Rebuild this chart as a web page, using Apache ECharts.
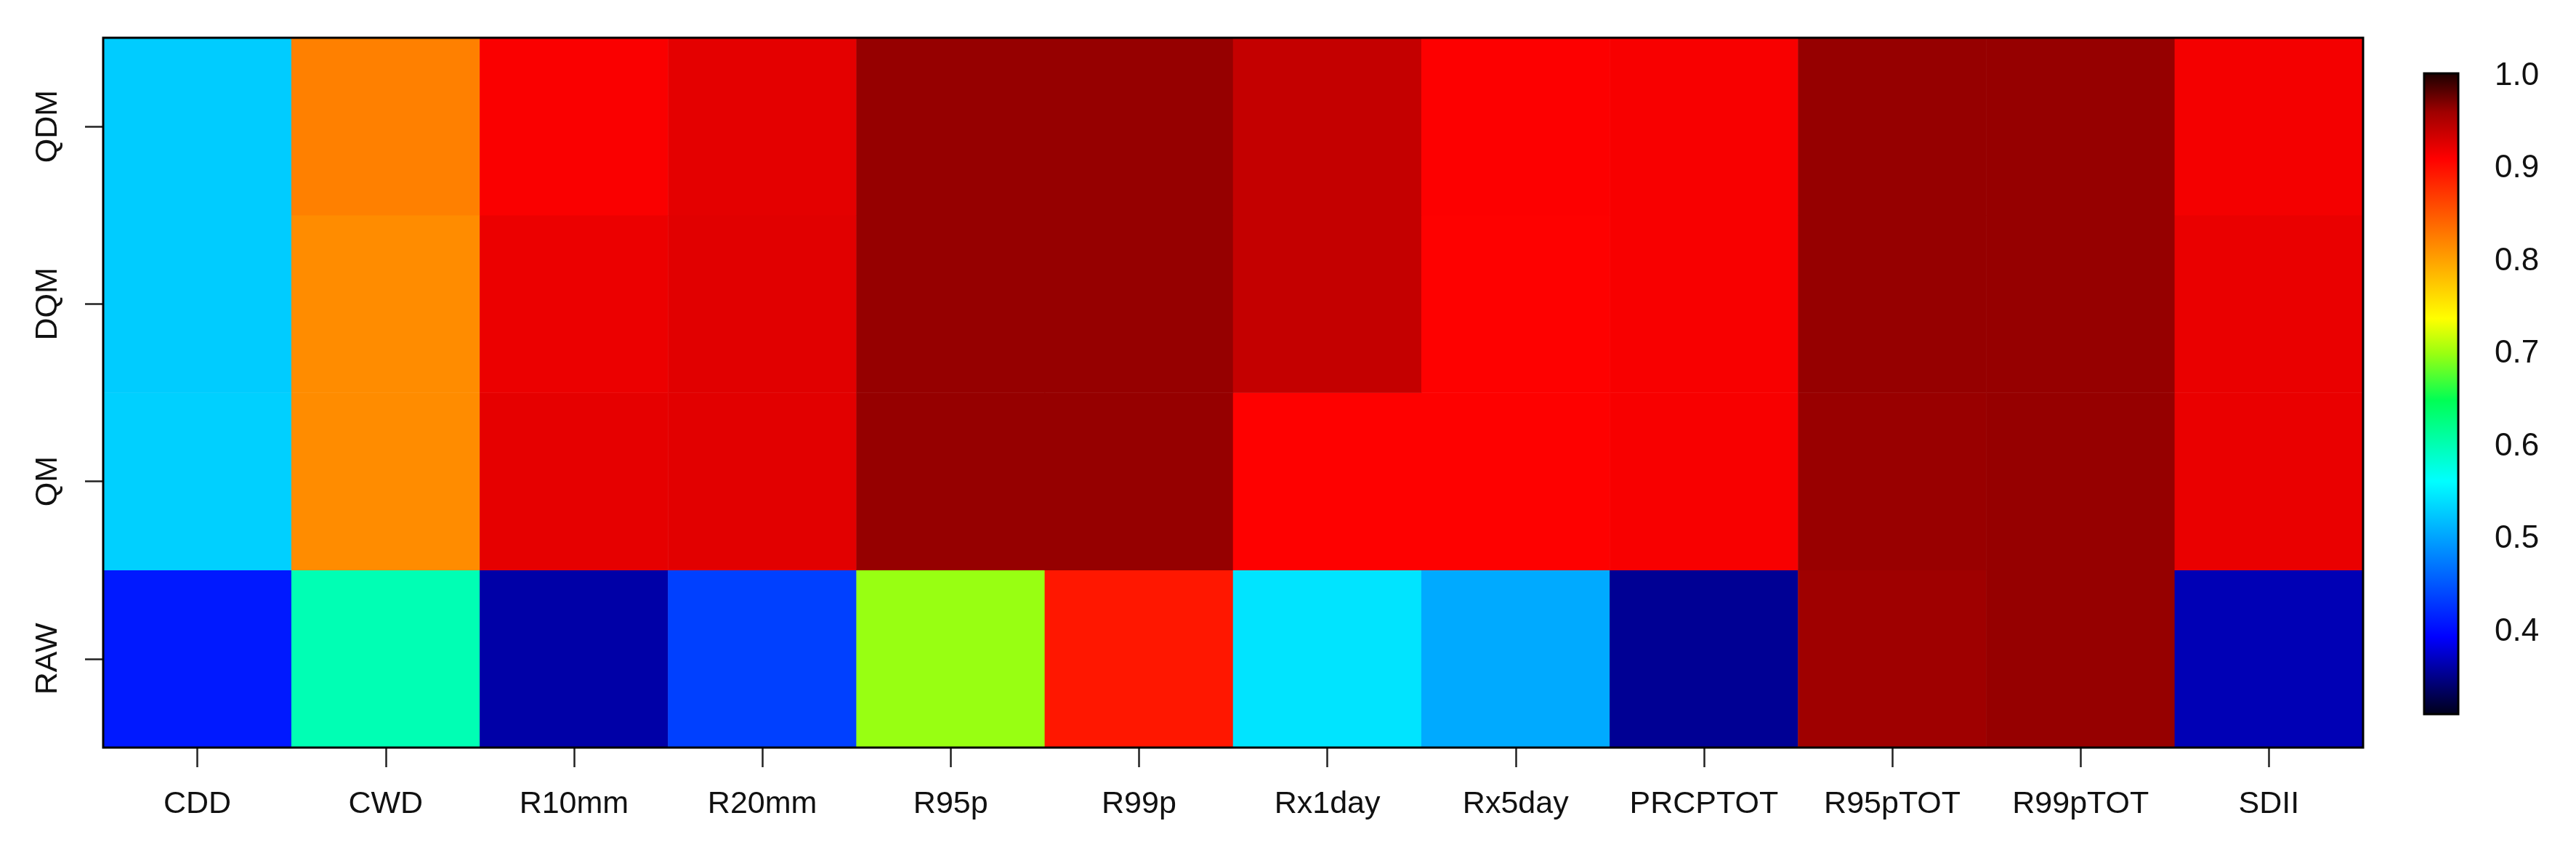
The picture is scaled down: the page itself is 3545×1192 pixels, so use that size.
<html>
<head>
    <meta charset="utf-8">
    <title>heatmap</title>
    <script src="https://cdn.jsdelivr.net/npm/echarts@6/dist/echarts.min.js"></script>
</head>
<body style="margin:0;background:#fff;">
<div id="chartmain" style="width: 3545px; height: 1192px;"></div>
<script type="text/javascript">
    // categories
    var indices = ['CDD', 'CWD', 'R10mm', 'R20mm', 'R95p', 'R99p', 'Rx1day', 'Rx5day', 'PRCPTOT', 'R95pTOT', 'R99pTOT', 'SDII'];
    var methods = ['RAW', 'QM', 'DQM', 'QDM'];   // bottom -> top

    // values, one array per row
    var qdm = [0.529, 0.824, 0.913, 0.924, 0.963, 0.963, 0.941, 0.911, 0.914, 0.963, 0.963, 0.916];
    var dqm = [0.529, 0.816, 0.920, 0.926, 0.963, 0.963, 0.941, 0.910, 0.914, 0.963, 0.963, 0.921];
    var qm  = [0.532, 0.816, 0.923, 0.925, 0.963, 0.963, 0.910, 0.910, 0.914, 0.962, 0.963, 0.921];
    var raw = [0.411, 0.601, 0.363, 0.437, 0.700, 0.894, 0.545, 0.507, 0.356, 0.960, 0.963, 0.368];

    // colour bar
    var barMin = 0.311, barMax = 1.003;
    var barTicks = [0.4, 0.5, 0.6, 0.7, 0.8, 0.9, 1.0];

    // colour ramp (value, colour)
    var ramp = [
        [0.311, '#000018'],
        [0.395, '#0000ff'],
        [0.563, '#00ffff'],
        [0.650, '#00ff55'],
        [0.700, '#99ff11'],
        [0.738, '#ffff00'],
        [0.910, '#ff0000'],
        [0.960, '#a00000'],
        [1.003, '#180000']
    ];

    function hex2rgb(h) {
        return [parseInt(h.substr(1, 2), 16), parseInt(h.substr(3, 2), 16), parseInt(h.substr(5, 2), 16)];
    }
    function colorAt(v) {
        for (var i = 1; i < ramp.length; i++) {
            if (v <= ramp[i][0]) {
                var a = ramp[i - 1], b = ramp[i];
                var t = (v - a[0]) / (b[0] - a[0]);
                var ca = hex2rgb(a[1]), cb = hex2rgb(b[1]);
                var c = [0, 1, 2].map(function (k) { return Math.round(ca[k] + (cb[k] - ca[k]) * t); });
                return 'rgb(' + c.join(',') + ')';
            }
        }
        return ramp[ramp.length - 1][1];
    }

    // evenly sampled colours for the visualMap
    var mapColors = [];
    for (var s = 0; s <= 150; s++) {
        mapColors.push(colorAt(barMin + (barMax - barMin) * s / 150));
    }
    // gradient stops for the colour bar (top = max)
    var gradStops = ramp.map(function (r) {
        return { offset: (barMax - r[0]) / (barMax - barMin), color: r[1] };
    }).reverse();

    var rows = [raw, qm, dqm, qdm];
    var heatData = [];
    for (var r = 0; r < rows.length; r++) {
        for (var c = 0; c < indices.length; c++) {
            heatData.push([c, r, rows[r][c]]);
        }
    }

    var font = 'Liberation Sans, Arial, sans-serif';
    var myChart = echarts.init(document.getElementById('chartmain'));
    var option = {
        backgroundColor: '#ffffff',
        animation: false,
        grid: [
            { left: 142, top: 52, width: 3110, height: 977, show: true, z: 10,
              backgroundColor: 'transparent', borderColor: '#000', borderWidth: 3 },
            { left: 3336, top: 101, width: 47, height: 882 }
        ],
        xAxis: [
            { type: 'category', data: indices, gridIndex: 0, position: 'bottom',
              axisLine: { show: false },
              axisTick: { show: true, alignWithLabel: true, length: 27, lineStyle: { color: '#222', width: 2.5 } },
              axisLabel: { interval: 0, margin: 57, fontSize: 43, color: '#111', fontFamily: font },
              splitLine: { show: false } },
            { type: 'value', gridIndex: 1, min: 0, max: 1, show: false }
        ],
        yAxis: [
            { type: 'category', data: methods, gridIndex: 0,
              axisLine: { show: false },
              axisTick: { show: true, alignWithLabel: true, length: 25, lineStyle: { color: '#222', width: 2.5 } },
              axisLabel: { rotate: 90, margin: 54, fontSize: 43, color: '#111', fontFamily: font },
              splitLine: { show: false } },
            { type: 'value', gridIndex: 1, min: barMin, max: barMax, position: 'right',
              axisLine: { show: false },
              splitLine: { show: false },
              axisTick: { show: true, length: 28, customValues: barTicks, lineStyle: { color: '#222', width: 2.5 } },
              axisLabel: { margin: 50, fontSize: 44, color: '#111', fontFamily: font, customValues: barTicks,
                           formatter: function (v) { return v.toFixed(1); } } }
        ],
        visualMap: {
            show: false,
            type: 'continuous',
            seriesIndex: 0,
            min: barMin,
            max: barMax,
            inRange: { color: mapColors }
        },
        series: [
            {
                type: 'heatmap',
                xAxisIndex: 0,
                yAxisIndex: 0,
                data: heatData,
                itemStyle: { borderWidth: 0 }
            },
            {
                type: 'custom',
                xAxisIndex: 1,
                yAxisIndex: 1,
                data: [[0, barMin, 1, barMax]],
                renderItem: function (params, api) {
                    var p0 = api.coord([api.value(0), api.value(3)]);
                    var p1 = api.coord([api.value(2), api.value(1)]);
                    return {
                        type: 'rect',
                        shape: { x: p0[0], y: p0[1], width: p1[0] - p0[0], height: p1[1] - p0[1] },
                        style: {
                            fill: new echarts.graphic.LinearGradient(0, 0, 0, 1, gradStops),
                            stroke: '#000',
                            lineWidth: 3
                        }
                    };
                }
            }
        ]
    };
    myChart.setOption(option);
</script>
</body>
</html>
